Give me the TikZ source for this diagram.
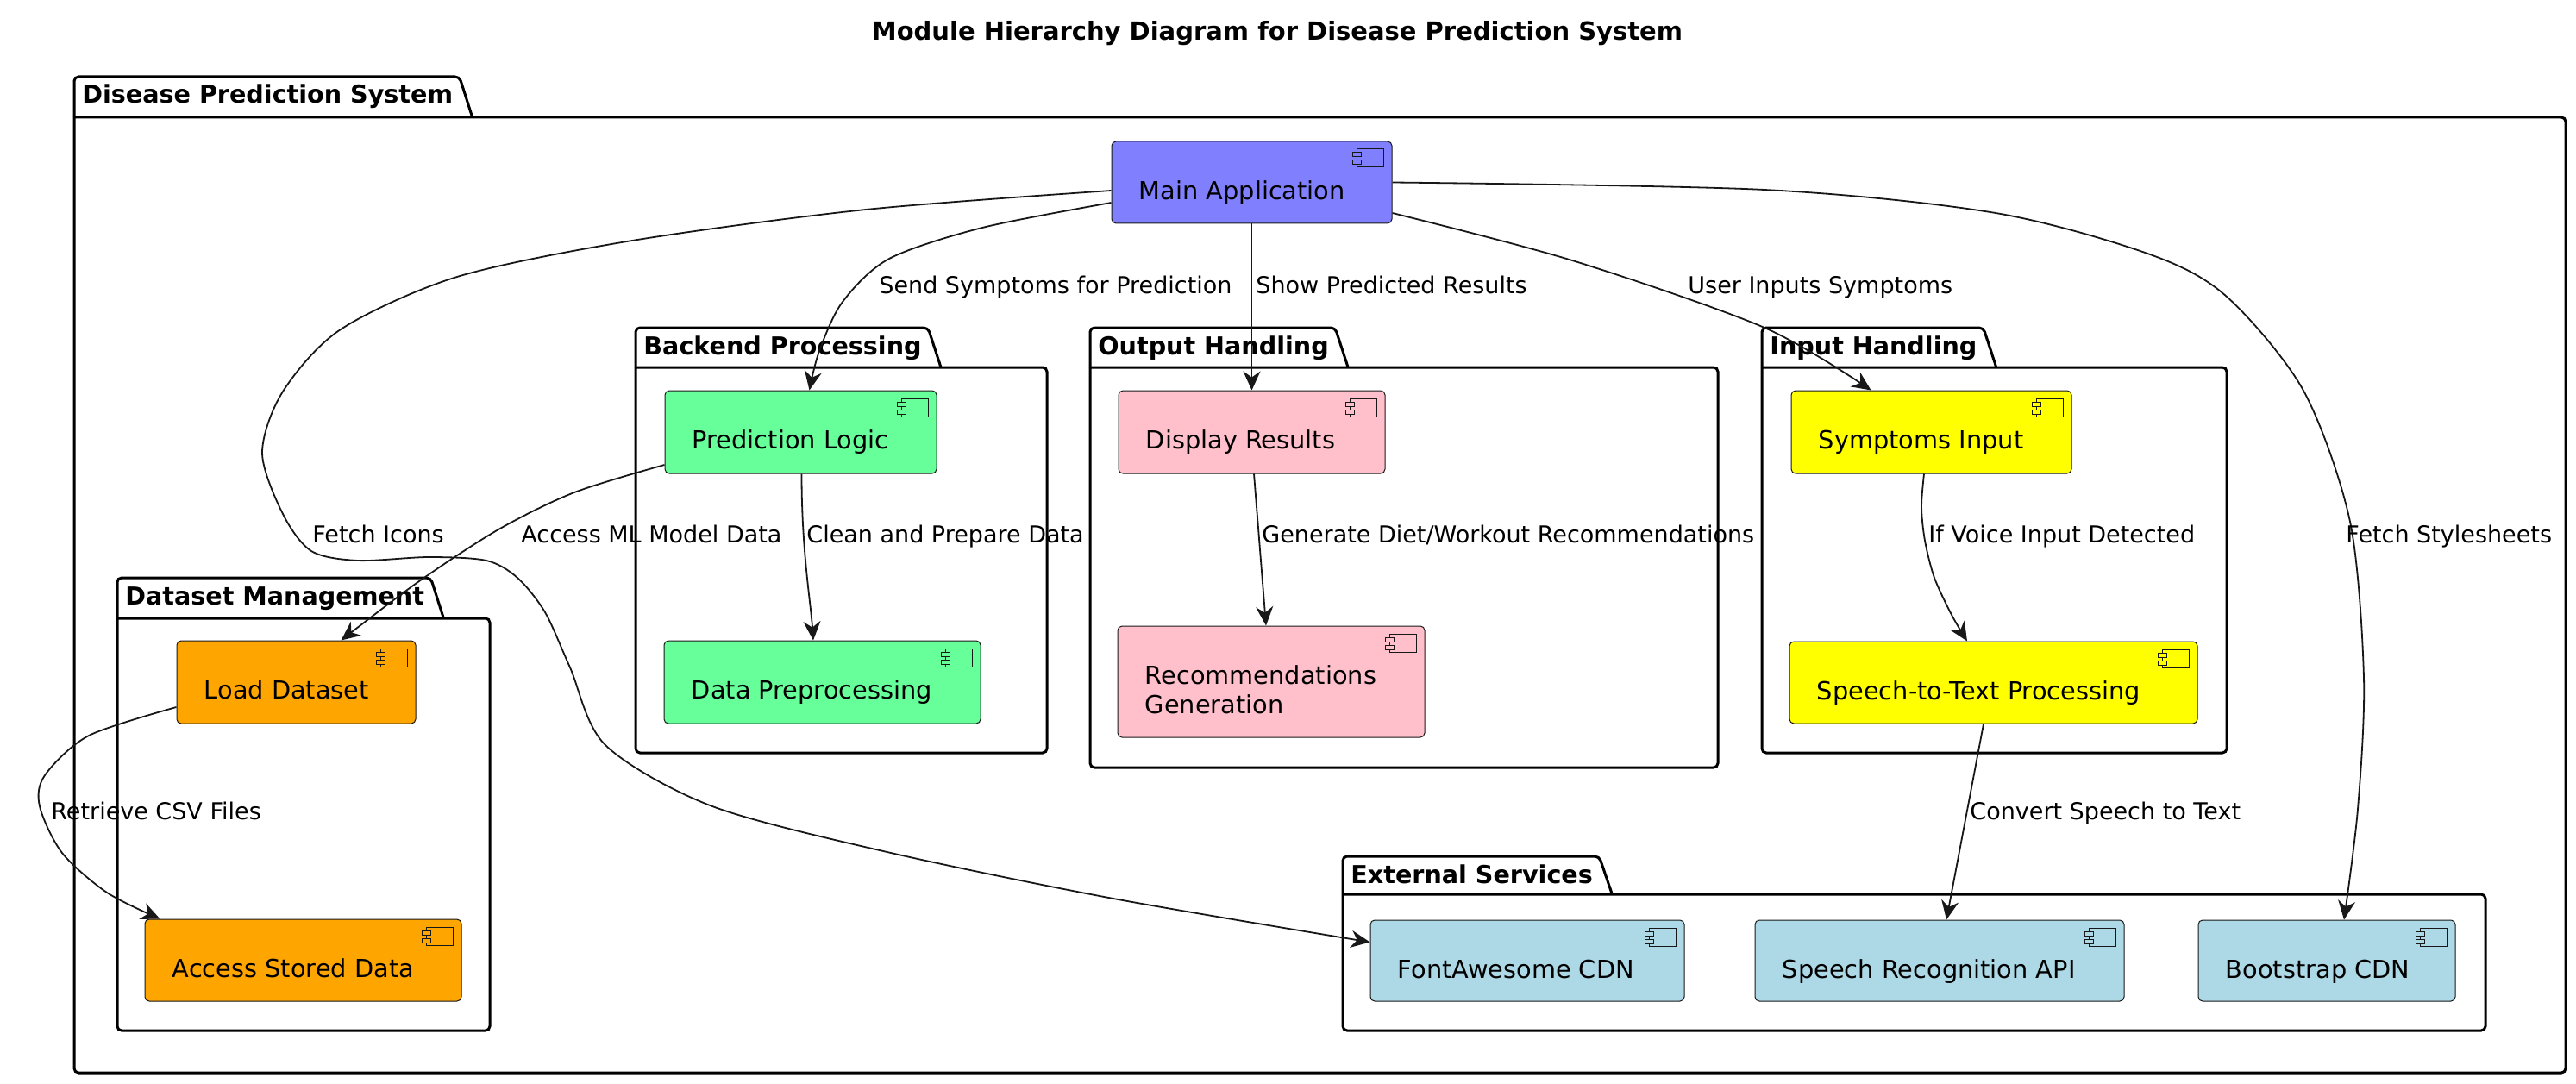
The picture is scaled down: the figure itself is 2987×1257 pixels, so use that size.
\documentclass[tikz,border=0pt]{standalone}
\usepackage{fontspec}
\setmainfont{DejaVu Sans}
\usetikzlibrary{arrows.meta,calc,fit}

\definecolor{cline}{HTML}{181818}
\definecolor{cmain}{RGB}{128,128,255}
\definecolor{cback}{RGB}{102,255,153}
\definecolor{cout}{RGB}{255,192,203}
\definecolor{cin}{RGB}{255,255,0}
\definecolor{cdata}{RGB}{255,165,0}
\definecolor{cext}{RGB}{173,216,230}

\newcommand\compfont{\fontsize{14.4}{17}\selectfont}
\newcommand\pkgfont{\fontsize{14.3}{16}\selectfont\bfseries}
\newcommand\lblfont{\fontsize{13.5}{15}\selectfont}
\newcommand\titlefont{\fontsize{14.5}{16}\selectfont\bfseries}

\tikzset{
  comp/.style={draw=cline, line width=0.5pt, fill=#1, rounded corners=2.5pt, inner sep=0pt,
    path picture={
      \coordinate (ne) at (path picture bounding box.north east);
      \draw[cline, line width=0.5pt, sharp corners] ([shift={(-41,9)}]ne) rectangle ([shift={(-10,30)}]ne);
      \filldraw[cline, fill=#1, line width=0.5pt, sharp corners] ([shift={(-46,13)}]ne) rectangle ([shift={(-36,18)}]ne);
      \filldraw[cline, fill=#1, line width=0.5pt, sharp corners] ([shift={(-46,22)}]ne) rectangle ([shift={(-36,27)}]ne);
    }},
  ctext/.style={anchor=base west, xshift=16pt, yshift=-34pt, inner sep=0pt, font=\compfont, align=left},
  pkgline/.style={draw=black, line width=1.5pt, rounded corners=2.5pt},
  pkgtitle/.style={anchor=base west, inner sep=0pt, font=\pkgfont},
  edge/.style={draw=cline, line width=0.9pt, -{Stealth[length=11pt, width=10pt, inset=3.5pt]}},
  elabel/.style={anchor=base west, inner sep=0pt, font=\lblfont},
}

% package: name, left, tab top, body top, right, bottom, title
\newcommand\pkgbox[7]{%
  \node[pkgtitle] (#1) at (#2+9,#3+31) {#7};
  \draw[pkgline] (#2,#4) -- (#2,#3) -- ($(#1.east |- 0,#3)+(7,0)$) -- ($(#1.east |- 0,#4)+(22,0)$);
  \draw[pkgline] (#2,#4) -- (#5,#4) -- (#5,#6) -- (#2,#6) -- (#2,#4);
}

\begin{document}
\begin{tikzpicture}[x=0.5pt, y=-0.5pt]
  \useasboundingbox (0,0) rectangle (2987,1257);
  \node[font=\titlefont, anchor=base, inner sep=0pt] (title) at (1481,47) {Module Hierarchy Diagram for Disease Prediction System};

  % packages
  \pkgbox{dps}{86}{89}{136}{2975}{1244}{Disease Prediction System}
  \pkgbox{dsm}{136}{670}{717}{568}{1195}{Dataset Management}
  \pkgbox{bep}{737}{380}{426}{1214}{873}{Backend Processing}
  \pkgbox{outh}{1264}{380}{426}{1992}{890}{Output Handling}
  \pkgbox{inh}{2043}{380}{426}{2582}{873}{Input Handling}
  \pkgbox{ext}{1557}{993}{1037}{2882}{1195}{External Services}

  % components
  \node[comp=cmain, fit={(1289,164) (1614,259)}, label={[ctext]north west:Main Application}] (main) {};
  \node[comp=cback, fit={(771,453) (1086,549)}, label={[ctext]north west:Prediction Logic}] (predlogic) {};
  \node[comp=cback, fit={(770,743) (1137,839)}, label={[ctext]north west:Data Preprocessing}] (datapre) {};
  \node[comp=cout, fit={(1297,453) (1606,549)}, label={[ctext]north west:Display Results}] (display) {};
  \node[comp=cout, fit={(1296,726) (1652,855)}, label={[ctext, yshift=-17pt]north west:Recommendations\\Generation}] (recgen) {};
  \node[comp=cin, fit={(2077,453) (2402,549)}, label={[ctext]north west:Symptoms Input}] (symptoms) {};
  \node[comp=cin, fit={(2075,744) (2548,839)}, label={[ctext]north west:Speech-to-Text Processing}] (speech) {};
  \node[comp=cdata, fit={(205,743) (482,839)}, label={[ctext]north west:Load Dataset}] (loadds) {};
  \node[comp=cdata, fit={(168,1066) (535,1161)}, label={[ctext]north west:Access Stored Data}] (access) {};
  \node[comp=cext, fit={(1589,1067) (1953,1161)}, label={[ctext]north west:FontAwesome CDN}] (fontaw) {};
  \node[comp=cext, fit={(2035,1067) (2463,1161)}, label={[ctext]north west:Speech Recognition API}] (speechapi) {};
  \node[comp=cext, fit={(2549,1067) (2847,1161)}, label={[ctext]north west:Bootstrap CDN}] (bootstrap) {};

  % connectors
  \draw[edge] plot[smooth] coordinates {($(main.west)+(0,23.5)$) (1139,264) (1031,300) (977,350) (950,407) ($(predlogic.north)+(10,0)$)};
  \draw[edge] (main.south) -- (display.north);
  \draw[edge] plot[smooth] coordinates {($(main.east)+(0,35.5)$) (1823,302) (2046,380) ($(symptoms.north)+(-70,0)$)};
  \draw[edge] plot[smooth] coordinates {(main.east) (2046,220) (2314,247) (2493,295) (2582,344) (2671,453) (2725,605) (2741,786) (2734,938) ($(bootstrap.north)+(20,0)$)};
  \draw[edge] plot[smooth] coordinates {($(main.west)+(0,9.5)$) (1004,243) (733,279) (530,321) (395,382) (328,454) (304,525) (328,596) (361,639) (415,650) (497,646) (564,650) (600,670) (632,710) (661,774) (702,864) (826,935) (1033,989) (1291,1042) ($(fontaw.west)+(0,-21.5)$)};
  \draw[edge] plot[smooth] coordinates {($(predlogic.west)+(0,38)$) (666,571) (578,614) (486,674) ($(loadds.north)+(52,0)$)};
  \draw[edge] ($(predlogic.south)+(1,0)$) .. controls +(0,90) and +(-3,-45) .. ($(datapre.north)+(-10.5,0)$);
  \draw[edge] ($(display.south)+(2.5,0)$) -- ($(recgen.north)+(-6,0)$);
  \draw[edge] plot[smooth] coordinates {($(symptoms.south)+(-8.5,0)$) (2228,588) (2232,627) (2243,670) (2263,713) ($(speech.north)+(-30.5,0)$)};
  \draw[edge] ($(speech.south)+(-11.5,0)$) -- ($(speechapi.north)+(8,0)$);
  \draw[edge] plot[smooth] coordinates {($(loadds.west)+(0,29)$) (103,853) (52,899) (46,935) (72,989) (124,1035) ($(access.north west)+(18,0)$)};

  % connector labels
  \node[elabel] (lsend) at (1019,340) {Send Symptoms for Prediction};
  \node[elabel] (lshow) at (1456,340) {Show Predicted Results};
  \node[elabel] (luser) at (1957,340) {User Inputs Symptoms};
  \node[elabel] (licons) at (362,629) {Fetch Icons};
  \node[elabel] (lml) at (604,629) {Access ML Model Data};
  \node[elabel] (lclean) at (935,629) {Clean and Prepare Data};
  \node[elabel] (ldiet) at (1463,629) {Generate Diet/Workout Recommendations};
  \node[elabel] (lvoice) at (2236,629) {If Voice Input Detected};
  \node[elabel] (lstyle) at (2720,629) {Fetch Stylesheets};
  \node[elabel] (lcsv) at (59,950) {Retrieve CSV Files};
  \node[elabel] (lconvert) at (2284,950) {Convert Speech to Text};
\end{tikzpicture}
\end{document}
